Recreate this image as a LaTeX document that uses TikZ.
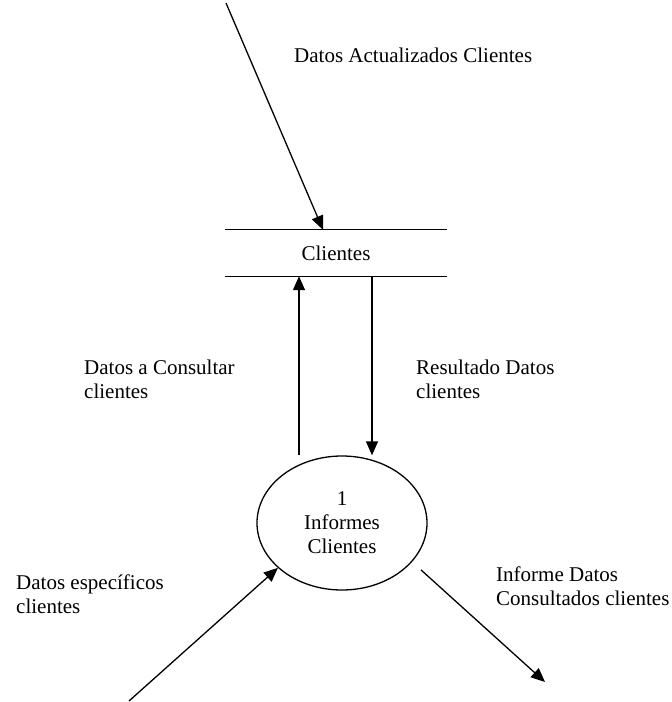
\documentclass[tikz,border=0pt]{standalone}
\usepackage{fontspec}
\setmainfont{Liberation Serif}
\usetikzlibrary{arrows.meta,shapes.geometric}
\begin{document}
\begin{tikzpicture}[x=1pt,y=-1pt,font=\fontsize{21}{24}\selectfont]
            \tikzstyle{proceso}=[ellipse, draw, line width=1.3pt, minimum width=170pt, minimum height=134pt, inner sep=0pt, align=center]
            \tikzstyle{almacen}=[minimum width=222pt, minimum height=46pt, inner sep=0pt]
            \tikzstyle{etiqueta}=[anchor=west, inner sep=0pt, align=left]
            \tikzstyle{flujo}=[-{Triangle[length=14pt,width=12pt]}, line width=1.3pt]
            \useasboundingbox (0,0) rectangle (672,702);
            \node[almacen] (clientes) at (336,253) {Clientes};
            \draw[line width=1.3pt] (clientes.north west) -- (clientes.north east);
            \draw[line width=1.3pt] (clientes.south west) -- (clientes.south east);
            \node[proceso] (informes) at (342,523) {1\\Informes\\Clientes};
            \coordinate (entrada) at (226,3);
            \coordinate (consulta) at (129,701);
            \coordinate (salida) at (545,682);
            \path[flujo] (entrada) edge[] ([xshift=-13pt]clientes.north);
            \path[flujo] ([xshift=-43pt]informes.north) edge[] ([xshift=-37pt]clientes.south);
            \path[flujo] ([xshift=36pt]clientes.south) edge[] ([xshift=30pt]informes.north);
            \path[flujo] (consulta) edge[] (informes.215);
            \path[flujo] (informes.331) edge[shorten <=12pt] (salida);
            \node[etiqueta] (lactualizados) at (294,55) {Datos Actualizados Clientes};
            \node[etiqueta] (lconsultar) at (84,379) {Datos a Consultar\\clientes};
            \node[etiqueta] (lresultado) at (416,379) {Resultado Datos\\clientes};
            \node[etiqueta] (linforme) at (496,586) {Informe Datos\\Consultados clientes};
            \node[etiqueta] (lespecificos) at (16,594) {Datos específicos\\clientes};
        \end{tikzpicture}
\end{document}
